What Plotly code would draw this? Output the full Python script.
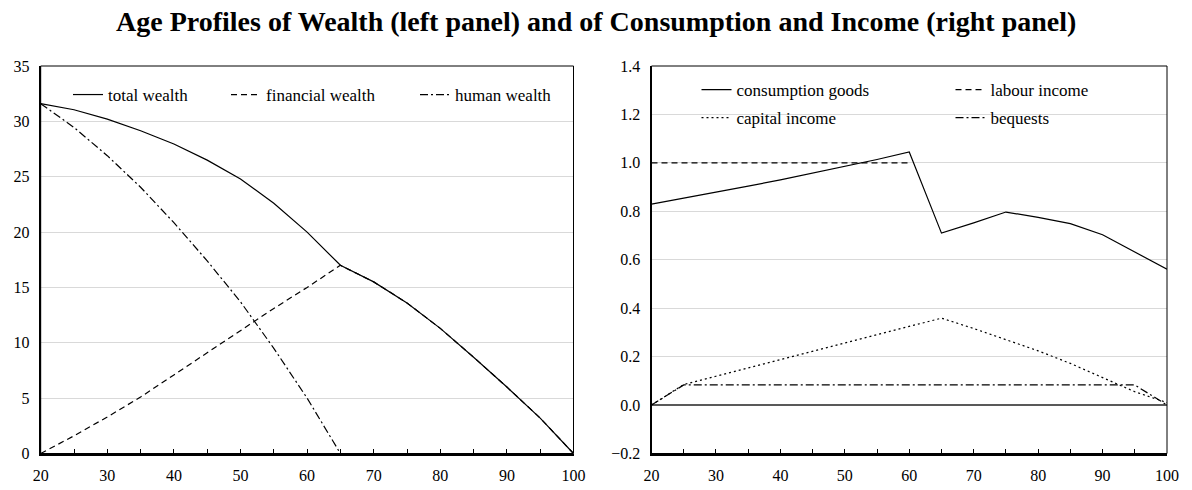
import plotly.graph_objects as go

# ---- data ----
ages = [20, 25, 30, 35, 40, 45, 50, 55, 60, 65, 70, 75, 80, 85, 90, 95, 100]

total_wealth = [31.6, 31.05, 30.2, 29.15, 27.95, 26.5, 24.8, 22.6, 20.0, 17.0,
                15.5, 13.6, 11.3, 8.7, 6.0, 3.2, 0.0]
financial_wealth = [0.0, 1.6, 3.3, 5.1, 7.1, 9.1, 11.1, 13.1, 15.0, 17.0,
                    15.5, 13.6, 11.3, 8.7, 6.0, 3.2, 0.0]
human_wealth = [31.6, 29.45, 26.9, 24.05, 20.85, 17.4, 13.7, 9.5, 5.0, 0.0,
                0.0, 0.0, 0.0, 0.0, 0.0, 0.0, 0.0]

consumption_goods = [0.830, 0.854, 0.879, 0.904, 0.930, 0.957, 0.985, 1.014, 1.045,
                     0.710, 0.752, 0.797, 0.775, 0.749, 0.703, 0.632, 0.561]
labour_income = [1.0, 1.0, 1.0, 1.0, 1.0, 1.0, 1.0, 1.0, 1.0,
                 None, None, None, None, None, None, None, None]
capital_income = [0.0, 0.085, 0.119, 0.153, 0.188, 0.222, 0.256, 0.290, 0.325,
                  0.359, 0.316, 0.270, 0.224, 0.172, 0.115, 0.055, 0.010]
bequests = [0.0, 0.083, 0.083, 0.083, 0.083, 0.083, 0.083, 0.083, 0.083,
            0.083, 0.083, 0.083, 0.083, 0.083, 0.083, 0.083, 0.0]

left_ticks = [0, 5, 10, 15, 20, 25, 30, 35]
right_ticks = [-0.2, 0.0, 0.2, 0.4, 0.6, 0.8, 1.0, 1.2, 1.4]
age_ticks = [20, 30, 40, 50, 60, 70, 80, 90, 100]

title_text = "Age Profiles of Wealth (left panel) and of Consumption and Income (right panel)"

# ---- styles ----
FONT = "Liberation Serif, Times New Roman, serif"
W, H = 1192, 490
LW = 1.2
DASH = "6px,4px"
DASHDOT = "8px,3px,2px,3px"
DOT = "2px,3px"

fig = go.Figure()

def line(x, y, name, dash, xa, ya, legend):
    return go.Scatter(x=x, y=y, name=name, mode="lines", xaxis=xa, yaxis=ya,
                      line=dict(color="black", width=LW, dash=dash),
                      legend=legend, hoverinfo="x+y+name")

# left panel
fig.add_trace(line(ages, human_wealth, "human wealth", DASHDOT, "x", "y", "legend3"))
fig.add_trace(line(ages, financial_wealth, "financial wealth", DASH, "x", "y", "legend2"))
fig.add_trace(line(ages, total_wealth, "total wealth", "solid", "x", "y", "legend"))
# right panel
fig.add_trace(line(ages, capital_income, "capital income", DOT, "x2", "y2", "legend5"))
fig.add_trace(line(ages, bequests, "bequests", DASHDOT, "x2", "y2", "legend7"))
fig.add_trace(line(ages, labour_income, "labour income", DASH, "x2", "y2", "legend6"))
fig.add_trace(line(ages, consumption_goods, "consumption goods", "solid", "x2", "y2", "legend4"))

ydom = [(H - 453.5) / H, (H - 66) / H]
xdom1 = [40.7 / W, 573.5 / W]
xdom2 = [651.5 / W, 1167 / W]

tickfont = dict(family=FONT, size=16, color="black")
xcommon = dict(range=[20, 100], tickvals=age_ticks, ticks="inside", ticklen=5,
               tickcolor="black", tickwidth=1.2,
               minor=dict(dtick=5, tick0=20, ticks="inside", ticklen=5,
                          tickcolor="black", tickwidth=1.2, showgrid=False),
               showgrid=False, zeroline=False, showline=True, linecolor="black",
               linewidth=2, tickfont=tickfont, ticklabelstandoff=6,
               fixedrange=True, automargin=False)

fig.update_layout(
    width=W, height=H,
    margin=dict(l=0, r=0, t=0, b=0),
    paper_bgcolor="white", plot_bgcolor="white",
    font=dict(family=FONT, color="black"),
    xaxis=dict(domain=xdom1, anchor="y", **xcommon),
    xaxis2=dict(domain=xdom2, anchor="y2", **xcommon),
    yaxis=dict(domain=ydom, anchor="x", range=[0, 35], tickvals=left_ticks,
               ticks="", showgrid=True, gridcolor="#d9d9d9", gridwidth=1,
               zeroline=False, showline=True, linecolor="black", linewidth=2,
               tickfont=tickfont, ticklabelstandoff=6, fixedrange=True,
               automargin=False),
    yaxis2=dict(domain=ydom, anchor="x2", range=[-0.2, 1.4], tickvals=right_ticks,
                tickformat=".1f", ticks="", showgrid=True, gridcolor="#d9d9d9",
                gridwidth=1, zeroline=True, zerolinecolor="#595959", zerolinewidth=2,
                showline=True, linecolor="black", linewidth=2,
                tickfont=tickfont, ticklabelstandoff=6, fixedrange=True,
                automargin=False),
    annotations=[dict(text="<b>" + title_text + "</b>", x=0.5, y=1 - 22 / H,
                      xref="paper", yref="paper", xanchor="center", yanchor="middle",
                      showarrow=False, font=dict(family=FONT, size=28, color="black"))],
    shapes=[
        dict(type="rect", xref="x domain", yref="y domain", x0=0, x1=1, y0=0, y1=1,
             line=dict(color="black", width=1), layer="above"),
        dict(type="rect", xref="x2 domain", yref="y2 domain", x0=0, x1=1, y0=0, y1=1,
             line=dict(color="black", width=1), layer="above"),
    ],
    showlegend=True,
)

legfont = dict(family=FONT, size=17, color="black")
def leg(xpx, ypx):
    return dict(x=xpx / W, y=1 - ypx / H, xanchor="left", yanchor="middle",
                bgcolor="rgba(0,0,0,0)", borderwidth=0, font=legfont,
                orientation="v", itemclick=False, itemdoubleclick=False)

fig.update_layout(
    legend=leg(68, 95),
    legend2=leg(226, 95),
    legend3=leg(415, 95),
    legend4=leg(696.5, 90),
    legend5=leg(696.5, 118),
    legend6=leg(950.5, 90),
    legend7=leg(950.5, 118),
)

fig.write_html("out.html",
               config={"displayModeBar": False},
               post_script="document.body.style.margin='0';"
                           "document.body.style.overflow='hidden';")
